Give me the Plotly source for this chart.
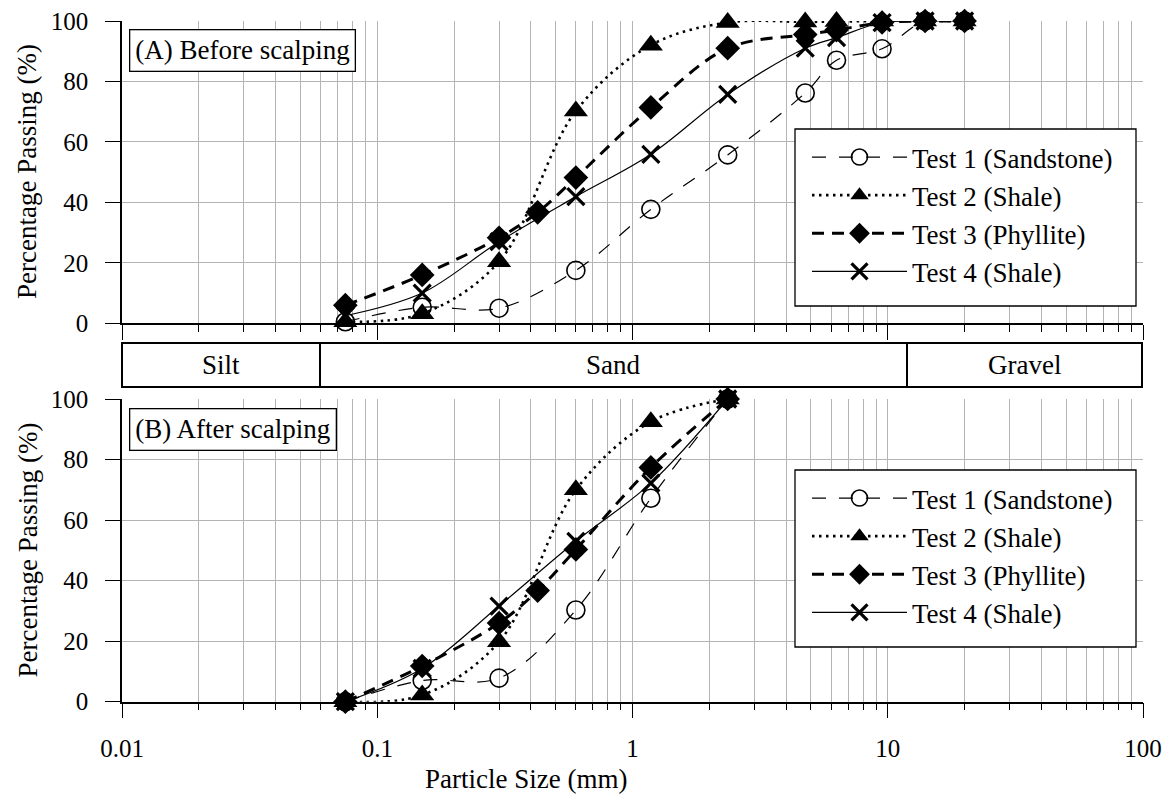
import plotly.graph_objects as go

# ---------------- data ----------------
test1_before_x = [0.075, 0.15, 0.3, 0.6, 1.18, 2.36, 4.75, 6.3, 9.5, 14, 20]
test1_before_y = [0.5, 5.3, 5.0, 17.5, 37.7, 55.7, 76.2, 87.0, 90.8, 100, 100]
test2_before_x = [0.075, 0.15, 0.3, 0.6, 1.18, 2.36, 4.75, 6.3, 9.5, 14, 20]
test2_before_y = [0.5, 3.2, 20.4, 70.2, 92.0, 99.5, 99.7, 99.8, 100, 100, 100]
test3_before_x = [0.075, 0.15, 0.3, 0.425, 0.6, 1.18, 2.36, 4.75, 6.3, 9.5, 14, 20]
test3_before_y = [6.0, 16.0, 28.3, 36.7, 48.2, 71.4, 91.0, 95.5, 97.0, 99.5, 100, 100]
test4_before_x = [0.075, 0.15, 0.3, 0.6, 1.18, 2.36, 4.75, 6.3, 9.5, 14, 20]
test4_before_y = [2.5, 10.0, 27.0, 41.9, 55.9, 75.7, 91.0, 94.5, 99.5, 100, 100]

test1_after_x = [0.075, 0.15, 0.3, 0.6, 1.18, 2.36]
test1_after_y = [0, 7.0, 7.8, 30.3, 67.2, 100]
test2_after_x = [0.075, 0.15, 0.3, 0.6, 1.18, 2.36]
test2_after_y = [0, 2.2, 19.8, 70.0, 92.5, 100]
test3_after_x = [0.075, 0.15, 0.3, 0.425, 0.6, 1.18, 2.36]
test3_after_y = [0, 11.8, 26.0, 36.7, 50.3, 77.4, 100]
test4_after_x = [0.075, 0.15, 0.3, 0.6, 1.18, 2.36]
test4_after_y = [0, 11.0, 31.6, 53.0, 72.2, 100]

names = ["Test 1 (Sandstone)", "Test 2 (Shale)", "Test 3 (Phyllite)", "Test 4 (Shale)"]
x_major = [0.01, 0.1, 1, 10, 100]
x_major_text = ["0.01", "0.1", "1", "10", "100"]
y_ticks = [0, 20, 40, 60, 80, 100]
soil_classes = ["Silt", "Sand", "Gravel"]
panel_titles = ["(A) Before scalping", "(B) After scalping"]

# ---------------- styling ----------------
W, H = 1166, 795
FONT = "Liberation Serif"
FS_TICK = 25
FS = 27
GRID = "#b4b4b4"

def px_x(p):
    return p / W

def px_y(p):
    return 1 - p / H

styles = [
    dict(line=dict(color="black", width=1.2, dash="14px,13px"),
         marker=dict(symbol="circle-open", size=18, color="black", line=dict(width=1.6, color="black"))),
    dict(line=dict(color="black", width=2.6, dash="2.5px,4.5px"),
         marker=dict(symbol="triangle-up", size=21, color="black")),
    dict(line=dict(color="black", width=3, dash="12px,8px"),
         marker=dict(symbol="diamond", size=19, color="black")),
    dict(line=dict(color="black", width=1.2),
         marker=dict(symbol="x-thin-open", size=17, color="black", line=dict(width=3.2, color="black"))),
]

before = [(test1_before_x, test1_before_y), (test2_before_x, test2_before_y),
          (test3_before_x, test3_before_y), (test4_before_x, test4_before_y)]
after = [(test1_after_x, test1_after_y), (test2_after_x, test2_after_y),
         (test3_after_x, test3_after_y), (test4_after_x, test4_after_y)]

fig = go.Figure()
for i, (xs, ys) in enumerate(before):
    fig.add_trace(go.Scatter(x=xs, y=ys, name=names[i], mode="lines+markers",
                             line=dict(shape="spline", smoothing=1, **styles[i]["line"]),
                             marker=styles[i]["marker"], cliponaxis=False,
                             xaxis="x", yaxis="y", legend="legend"))
for i, (xs, ys) in enumerate(after):
    fig.add_trace(go.Scatter(x=xs, y=ys, name=names[i], mode="lines+markers",
                             line=dict(shape="spline", smoothing=1, **styles[i]["line"]),
                             marker=styles[i]["marker"], cliponaxis=False,
                             xaxis="x2", yaxis="y2", legend="legend2"))

minor_vals = [m * 10 ** e for e in range(-2, 2) for m in range(2, 10)]

def xaxis_cfg(anchor, labels):
    return dict(
        type="log", range=[-2, 2], domain=[px_x(122), px_x(1143)], anchor=anchor,
        automargin=False,
        tickmode="array", tickvals=x_major, ticktext=x_major_text,
        showticklabels=labels, ticks="outside", ticklen=15, tickwidth=1.3, tickcolor="black",
        ticklabelstandoff=9,
        showgrid=True, gridcolor=GRID, gridwidth=1,
        minor=dict(tickmode="array", tickvals=minor_vals, ticks="outside", ticklen=7,
                   tickwidth=1.2, tickcolor="black", showgrid=True, gridcolor=GRID, gridwidth=1),
        showline=True, linecolor="black", linewidth=1.5, zeroline=False,
        tickfont=dict(family=FONT, size=FS_TICK, color="black"),
    )

def yaxis_cfg(anchor, top, bottom):
    return dict(
        range=[0, 100], domain=[px_y(bottom), px_y(top)], anchor=anchor,
        automargin=False,
        tickmode="array", tickvals=y_ticks, ticks="outside", ticklen=15, tickwidth=1.3,
        tickcolor="black", ticklabelstandoff=12,
        showgrid=True, gridcolor=GRID, gridwidth=1,
        showline=True, linecolor="black", linewidth=1.5, zeroline=False,
        tickfont=dict(family=FONT, size=FS_TICK, color="black"),
    )

legend_common = dict(
    xanchor="left", yanchor="top", bgcolor="rgba(0,0,0,0)", borderwidth=0,
    font=dict(family=FONT, size=FS, color="black"), itemwidth=95, tracegroupgap=0,
)

# legend boxes (top, bottom) in pixels
leg_boxes = [(795, 129, 1136, 306), (795, 470, 1136, 647)]

fig.update_layout(
    width=W, height=H, margin=dict(l=0, r=0, t=0, b=0, autoexpand=False),
    paper_bgcolor="white", plot_bgcolor="white",
    font=dict(family=FONT, size=FS, color="black"),
    xaxis=xaxis_cfg("y", False), yaxis=yaxis_cfg("x", 21, 323.3),
    xaxis2=xaxis_cfg("y2", True), yaxis2=yaxis_cfg("x2", 399, 701.7),
    legend=dict(x=px_x(807), y=px_y(leg_boxes[0][1] + 4), **legend_common),
    legend2=dict(x=px_x(807), y=px_y(leg_boxes[1][1] + 4), **legend_common),
    showlegend=True,
)

for (x0, y0, x1, y1) in leg_boxes:
    fig.add_shape(type="rect", xref="paper", yref="paper", layer="above",
                  x0=px_x(x0), x1=px_x(x1), y0=px_y(y1), y1=px_y(y0),
                  line=dict(color="black", width=1.3), fillcolor="white")

# Soil classification band
band_top, band_bot = 343, 387
band_edges = [122, 320, 907, 1142]
for k in range(3):
    fig.add_shape(type="rect", xref="paper", yref="paper",
                  x0=px_x(band_edges[k]), x1=px_x(band_edges[k + 1]),
                  y0=px_y(band_bot), y1=px_y(band_top),
                  line=dict(color="black", width=2), fillcolor="white")
    fig.add_annotation(xref="paper", yref="paper",
                       x=px_x((band_edges[k] + band_edges[k + 1]) / 2), y=px_y((band_top + band_bot) / 2),
                       text=soil_classes[k], showarrow=False, xanchor="center", yanchor="middle",
                       font=dict(family=FONT, size=FS, color="black"))

# Panel labels
for title, top in zip(panel_titles, [29, 408]):
    fig.add_annotation(xref="paper", yref="paper", x=px_x(129), y=px_y(top),
                       text=title, showarrow=False, xanchor="left", yanchor="top",
                       bgcolor="white", bordercolor="black", borderwidth=1.3, borderpad=5,
                       font=dict(family=FONT, size=FS, color="black"))

# Axis titles
for yc in [(21 + 323) / 2, (399 + 702) / 2]:
    fig.add_annotation(xref="paper", yref="paper", x=px_x(27), y=px_y(yc),
                       text="Percentage Passing (%)", textangle=-90, showarrow=False,
                       xanchor="center", yanchor="middle",
                       font=dict(family=FONT, size=FS, color="black"))
fig.add_annotation(xref="paper", yref="paper", x=px_x(526), y=px_y(779),
                   text="Particle Size (mm)", showarrow=False, xanchor="center", yanchor="middle",
                   font=dict(family=FONT, size=FS, color="black"))

fig.write_html("out.html")
